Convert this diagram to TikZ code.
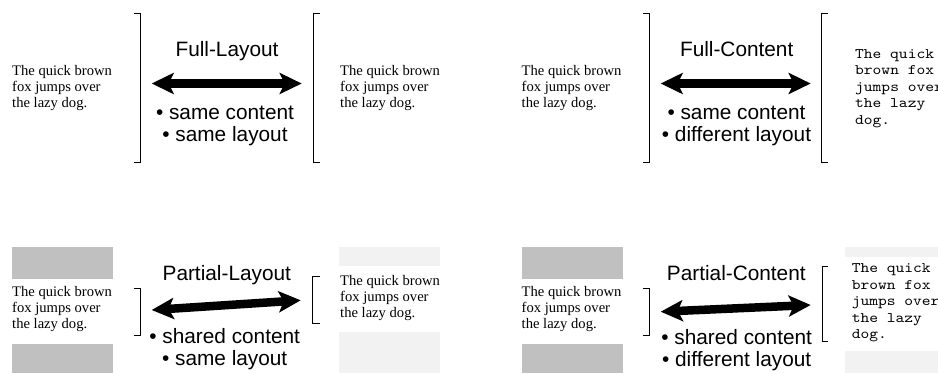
\documentclass[tikz,border=0pt]{standalone}
\usepackage{fontspec}
\setmainfont{Liberation Serif}
\setsansfont{Liberation Sans}
\newfontfamily\foxmonofont[FakeStretch=1.143]{lmmono10-regular.otf}
\usetikzlibrary{arrows.meta}

\definecolor{blockdark}{RGB}{192,192,192}
\definecolor{blocklight}{RGB}{242,242,242}

\tikzset{
  serifblock/.style={anchor=base west, inner sep=0pt, font=\fontsize{14.6}{16.3}\selectfont\rmfamily},
  monoblock/.style={anchor=base west, inner sep=0pt, font=\foxmonofont\fontsize{14.6}{16.5}\selectfont},
  heading/.style={anchor=base, inner sep=0pt, font=\fontsize{20.8}{23}\selectfont\sffamily},
  bullets/.style={anchor=base, inner sep=0pt, font=\fontsize{20.8}{22.2}\selectfont\sffamily},
  bracket/.style={line width=1pt, line cap=rect},
  twoway/.style={line width=8.5pt,
    {Stealth[length=22pt,width=21pt,inset=5pt]}-{Stealth[length=22pt,width=21pt,inset=5pt]}},
  darkbar/.style={fill=blockdark, draw=none},
  lightbar/.style={fill=blocklight, draw=none},
}

\newcommand{\fox}{\begin{tabular}[t]{@{}l@{}}The quick brown\\fox jumps over\\the lazy dog.\end{tabular}}
\newcommand{\foxmono}{\begin{tabular}[t]{@{}l@{}}The quick\\brown fox\\jumps over\\the lazy\\dog.\end{tabular}}
\newcommand{\pair}[2]{\begin{tabular}[t]{@{}c@{}}#1\\#2\end{tabular}}

\begin{document}
\begin{tikzpicture}[x=1pt, y=-1pt]
  \useasboundingbox (0,0) rectangle (938,373);

  % ---------- Full-Layout ----------
  \node[serifblock] (flA) at (12,75) {\fox};
  \draw[bracket] (134.5,13.5) -- (140.3,13.5) -- (140.3,162.3) -- (134.5,162.3);
  \node[heading] (flT) at (227,56.7) {Full-Layout};
  \coordinate (flL) at (151.7,83.5);
  \coordinate (flR) at (301.7,83.5);
  \draw[twoway] (flL) -- (flR);
  \node[bullets] (flB) at (225,119.3) {\pair{• same content}{• same layout}};
  \draw[bracket] (319,13.5) -- (313.3,13.5) -- (313.3,162.3) -- (319,162.3);
  \node[serifblock] (flC) at (340,75) {\fox};

  % ---------- Full-Content ----------
  \node[serifblock] (fcA) at (521.5,75) {\fox};
  \draw[bracket] (643.3,13.5) -- (649.3,13.5) -- (649.3,162.3) -- (643.3,162.3);
  \node[heading] (fcT) at (736.7,56.7) {Full-Content};
  \coordinate (fcL) at (660.7,83.5);
  \coordinate (fcR) at (810.7,83.5);
  \draw[twoway] (fcL) -- (fcR);
  \node[bullets] (fcB) at (736.5,119.3) {\pair{• same content}{• different layout}};
  \draw[bracket] (827.3,13.5) -- (821.7,13.5) -- (821.7,162.3) -- (827.3,162.3);
  \node[monoblock] (fcC) at (855,58) {\foxmono};

  % ---------- Partial-Layout ----------
  \fill[darkbar] (12.3,247) rectangle (112.7,279);
  \fill[darkbar] (12.3,344) rectangle (112.7,373);
  \node[serifblock] (plA) at (12,296) {\fox};
  \draw[bracket] (134.5,288.3) -- (140.3,288.3) -- (140.3,335.7) -- (134.5,335.7);
  \node[heading] (plT) at (226.8,280.7) {Partial-Layout};
  \coordinate (plL) at (151.7,310);
  \coordinate (plR) at (300.7,300.3);
  \draw[twoway] (plL) -- (plR);
  \node[bullets] (plB) at (224.7,343.3) {\pair{• shared content}{• same layout}};
  \draw[bracket] (319,276.7) -- (312.7,276.7) -- (312.7,323.3) -- (319,323.3);
  \fill[lightbar] (339,246.7) rectangle (440,266);
  \fill[lightbar] (339,331.7) rectangle (440,373);
  \node[serifblock] (plC) at (340,285) {\fox};

  % ---------- Partial-Content ----------
  \fill[darkbar] (521.7,247) rectangle (622.7,279);
  \fill[darkbar] (521.7,344) rectangle (622.7,373);
  \node[serifblock] (pcA) at (521.5,296) {\fox};
  \draw[bracket] (643.3,288.3) -- (649.3,288.3) -- (649.3,335.7) -- (643.3,335.7);
  \node[heading] (pcT) at (736.3,280.7) {Partial-Content};
  \coordinate (pcL) at (660.7,311.7);
  \coordinate (pcR) at (810.7,305);
  \draw[twoway] (pcL) -- (pcR);
  \node[bullets] (pcB) at (736.7,344) {\pair{• shared content}{• different layout}};
  \draw[bracket] (827.7,266) -- (822.3,266) -- (822.3,341.7) -- (827.7,341.7);
  \fill[lightbar] (845,247.3) rectangle (938,257.3);
  \fill[lightbar] (845,350.7) rectangle (938,373);
  \node[monoblock] (pcC) at (851.7,272.7) {\foxmono};
\end{tikzpicture}
\end{document}
